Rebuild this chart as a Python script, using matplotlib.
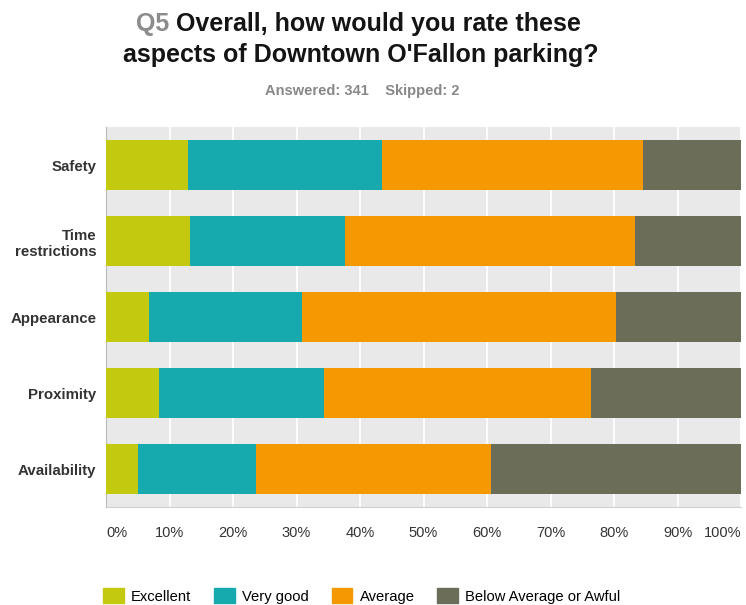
import matplotlib
matplotlib.use("Agg")
import matplotlib.pyplot as plt
from matplotlib.patches import Patch

plt.rcParams['font.family'] = ['Liberation Sans', 'DejaVu Sans']

aspects = ["Safety", "Time\nrestrictions", "Appearance", "Proximity", "Availability"]
excellent = [12.9, 13.2, 6.8, 8.4, 5.0]
very_good = [30.5, 24.5, 24.0, 25.9, 18.7]
average = [41.1, 45.6, 49.5, 42.0, 36.9]
below = [15.5, 16.7, 19.7, 23.7, 39.4]

series = [excellent, very_good, average, below]
names = ["Excellent", "Very good", "Average", "Below Average or Awful"]
colors = ["#c2c90f", "#16a9ad", "#f59903", "#6b6d59"]
ticks = list(range(0, 101, 10))

fig = plt.figure(figsize=(7.46, 6.05), dpi=100)
ax = fig.add_axes([106 / 746, 1 - 507 / 605, 635 / 746, 380 / 605])
ax.set_facecolor("#e9e9e9")

y = list(range(len(aspects)))
left = [0] * len(aspects)
for vals, name, c in zip(series, names, colors):
    ax.barh(y, vals, left=left, height=0.66, color=c, label=name, zorder=3)
    left = [l + v for l, v in zip(left, vals)]

ax.set_xlim(0, 100)
ax.set_ylim(len(aspects) - 0.5, -0.5)
ax.set_yticks(y)
ax.set_yticklabels(aspects, fontsize=10.8, fontweight="bold", color="#333333", linespacing=1.25)
ax.set_xticks(ticks)
xlabels = ax.set_xticklabels([f"{t}%" for t in ticks], fontsize=10.5, color="#333333")
xlabels[0].set_ha("left")
xlabels[-1].set_ha("right")
ax.tick_params(axis="both", length=0)
ax.tick_params(axis="x", pad=14)
ax.tick_params(axis="y", pad=7)
ax.grid(axis="x", color="white", linewidth=1.2, zorder=1)
for s in ["top", "right"]:
    ax.spines[s].set_visible(False)
ax.spines["left"].set_color("#bbbbbb")
ax.spines["bottom"].set_color("#d0d0d0")

# title with grey question number
t1 = fig.text(136 / 746, 1 - 31 / 605, "Q5 ", fontsize=18, color="#8c8c8c", fontweight="bold")
ax.annotate("Overall, how would you rate these", xy=(1, 0), xycoords=t1,
            fontsize=18, fontweight="bold", color="#141414", va="bottom", ha="left")
fig.text(361 / 746, 1 - 62 / 605, "aspects of Downtown O'Fallon parking?",
         fontsize=18, fontweight="bold", color="#141414", ha="center")
fig.text(362 / 746, 1 - 91 / 605, "Answered: 341    Skipped: 2", fontsize=10.5,
         fontweight="bold", color="#888888", ha="center", va="center")

handles = [Patch(facecolor=c, edgecolor=c) for c in colors]
fig.legend(handles, names, loc="center left", bbox_to_anchor=(103 / 746, 1 - 596 / 605),
           ncol=4, frameon=False, fontsize=10.6, handlelength=1.4, handleheight=1.1,
           columnspacing=1.55, handletextpad=0.5, borderpad=0, borderaxespad=0)

fig.savefig("out.png", dpi=100)
